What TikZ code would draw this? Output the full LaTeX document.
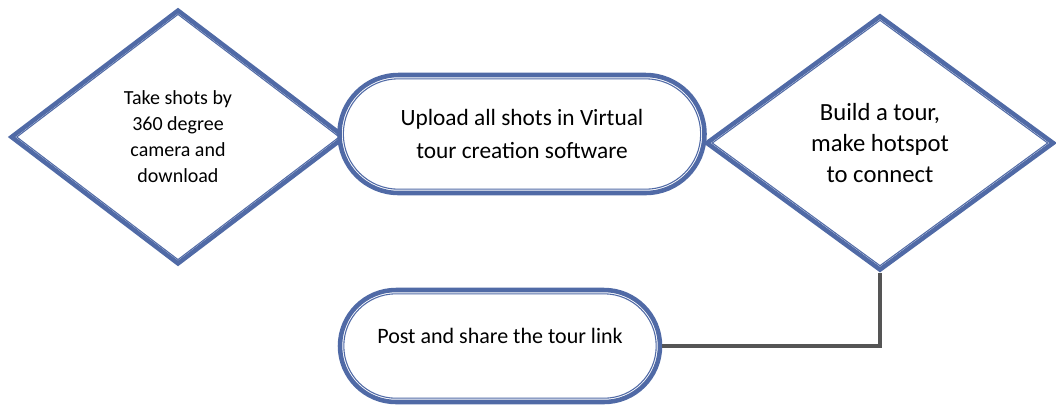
\documentclass[tikz,border=0pt]{standalone}
\usepackage{fontspec}
\setmainfont{Carlito}
\usetikzlibrary{shapes.geometric,shapes.misc,positioning}
\definecolor{shapeblue}{RGB}{80,106,166}
\definecolor{linkgray}{RGB}{85,85,85}
\tikzset{
  outline/.style={draw=shapeblue, line width=3.4pt, fill=white, inner sep=0pt, align=center},
  inline/.style={draw=shapeblue, line width=0.8pt, inner sep=0pt},
  decision/.style={diamond, outline},
  decision_in/.style={diamond, inline},
  terminal/.style={rounded rectangle, outline},
  terminal_in/.style={rounded rectangle, inline},
  link/.style={draw=linkgray, line width=3.6pt}
}

\begin{document}
\begin{tikzpicture}[x=0.75pt, y=-0.75pt]
\useasboundingbox (0,0) rectangle (1056,405);
% top row
\node[decision, minimum width=251pt, minimum height=191pt,
  font=\fontsize{15}{19.5}\selectfont] (shots) at (178,137)
  {Take shots by\\360 degree\\camera and\\download};
\node[decision_in, minimum width=242.2pt, minimum height=184.2pt] (shots-in) at (shots) {};
\node[terminal, minimum width=273.75pt, minimum height=88.5pt,
  font=\fontsize{17.5}{24.5}\selectfont] (upload) at (522,134)
  {Upload all shots in Virtual\\tour creation software};
\node[terminal_in, minimum width=268pt, minimum height=82.8pt] (upload-in) at (upload) {};
\node[decision, minimum width=261pt, minimum height=191.25pt,
  font=\fontsize{18.5}{23}\selectfont] (tour) at (880,143)
  {Build a tour,\\make hotspot\\to connect};
\node[decision_in, minimum width=251.8pt, minimum height=184.3pt] (tour-in) at (tour) {};
% bottom row
\node[terminal, minimum width=240pt, minimum height=84pt, text height=12pt, text depth=16pt,
  font=\fontsize{16.5}{23}\selectfont] (post) at (500,346)
  {Post and share the tour link};
\node[terminal_in, minimum width=234.3pt, minimum height=78.3pt] (post-in) at (post) {};
\draw[link] (tour.south) |- (post.east);
\end{tikzpicture}
\end{document}
